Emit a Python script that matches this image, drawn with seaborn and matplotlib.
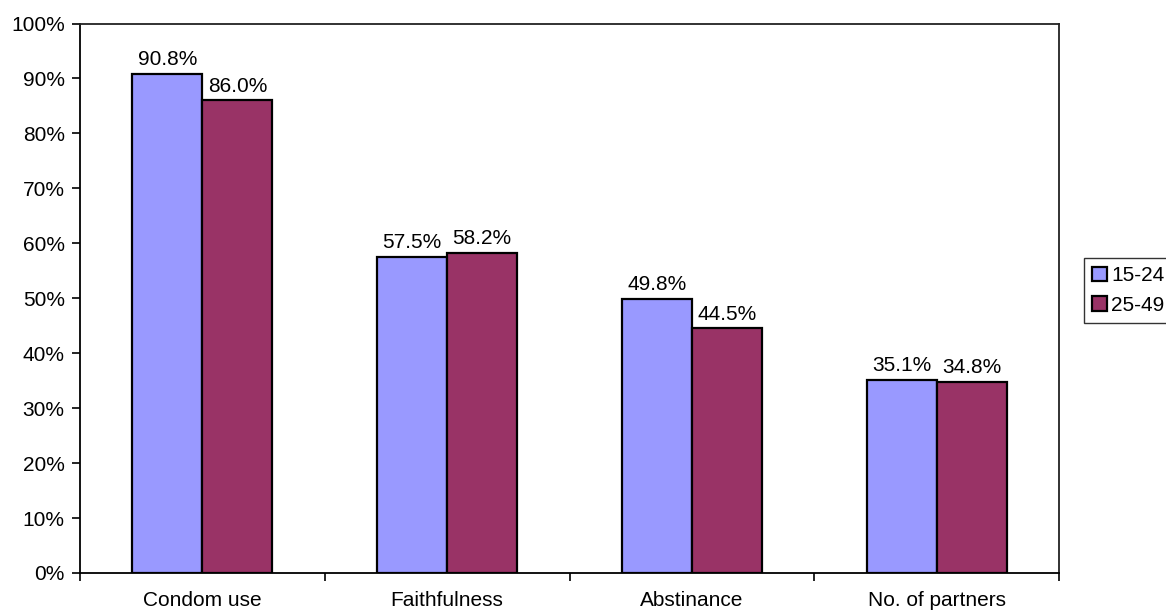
import matplotlib
matplotlib.use("Agg")
import matplotlib.pyplot as plt
import matplotlib.ticker as mticker
from matplotlib.patches import Patch
import seaborn as sns
import pandas as pd

categories = ["Condom use", "Faithfulness", "Abstinance", "No. of partners"]
age_groups = ["15-24", "25-49"]
values_15_24 = [90.8, 57.5, 49.8, 35.1]
values_25_49 = [86.0, 58.2, 44.5, 34.8]
colors = ["#9999FF", "#993366"]

df = pd.DataFrame({
    "category": categories * 2,
    "age": [age_groups[0]] * 4 + [age_groups[1]] * 4,
    "value": values_15_24 + values_25_49,
})

sns.set_style("white")
plt.rcParams["font.family"] = ["Liberation Sans", "DejaVu Sans"]
plt.rcParams["text.color"] = "black"
plt.rcParams["xtick.color"] = "black"
plt.rcParams["ytick.color"] = "black"
FS = 15

fig = plt.figure(figsize=(11.66, 6.13), dpi=100)
ax = fig.add_axes([80 / 1166, 40 / 613, 979 / 1166, 549.5 / 613])

sns.barplot(data=df, x="category", y="value", hue="age", order=categories,
            hue_order=age_groups, palette=colors, width=0.572,
            edgecolor="black", linewidth=1.6, saturation=1, ax=ax, legend=False)

for cont in ax.containers:
    ax.bar_label(cont, fmt="%.1f%%", padding=3.5, fontsize=FS, color="black")

ax.set_ylim(0, 100)
ax.set_xlim(-0.5, len(categories) - 0.5)
ax.yaxis.set_major_locator(mticker.MultipleLocator(10))
ax.yaxis.set_major_formatter(mticker.FuncFormatter(lambda v, p: f"{v:.0f}%"))
ax.set_xticks([i - 0.5 for i in range(len(categories) + 1)], minor=False)
ax.set_xticklabels([])
ax.set_xticks(range(len(categories)), minor=True)
ax.set_xticklabels(categories, minor=True, fontsize=FS)
ax.tick_params(axis="x", which="major", bottom=True, direction="out",
               length=6, width=1.2, color="black")
ax.tick_params(axis="x", which="minor", bottom=True, length=0, pad=13)
ax.tick_params(axis="y", left=True, direction="out", length=6, width=1.2,
               color="black", labelsize=FS, pad=5)
ax.set_xlabel("")
ax.set_ylabel("")

for side in ["left", "bottom"]:
    ax.spines[side].set_color("black")
    ax.spines[side].set_linewidth(1.3)
for side in ["top", "right"]:
    ax.spines[side].set_visible(True)
    ax.spines[side].set_color("#222222")
    ax.spines[side].set_linewidth(1.3)

handles = [Patch(facecolor=c, edgecolor="black", linewidth=1.6) for c in colors]
leg = fig.legend(handles, age_groups, loc="upper left",
                 bbox_to_anchor=(1084 / 1166, 1 - 258 / 613),
                 fontsize=FS, frameon=True, fancybox=False,
                 handlelength=0.7, handleheight=0.7, handletextpad=0.2,
                 borderpad=0.4, labelspacing=0.5, borderaxespad=0)
leg.get_frame().set_edgecolor("black")
leg.get_frame().set_linewidth(1.0)

fig.savefig("out.png", dpi=100)
